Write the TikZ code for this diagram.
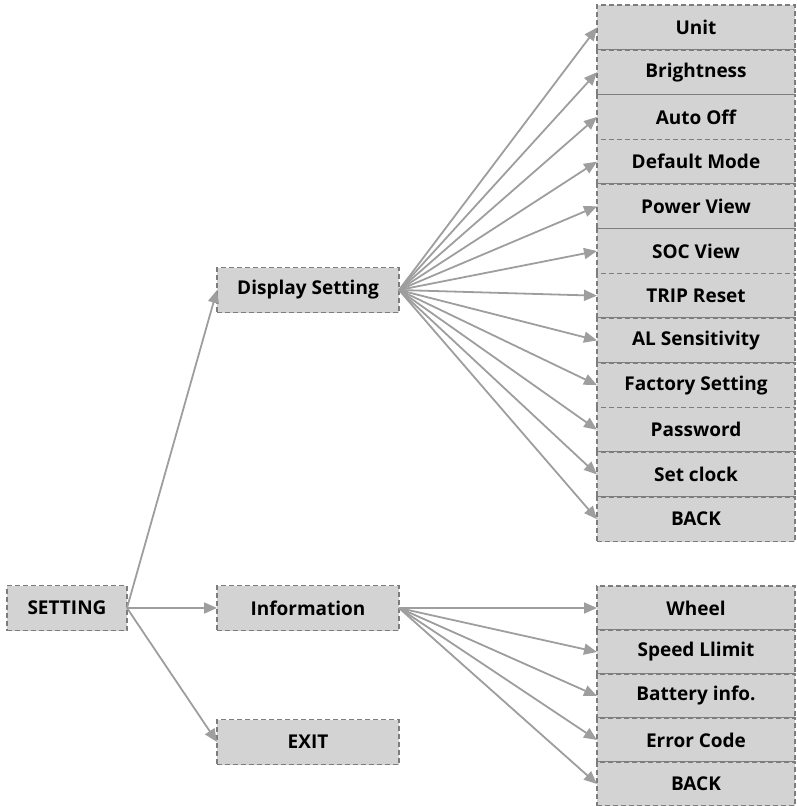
\documentclass[tikz,border=0pt]{standalone}
\usepackage{fontspec}
\setmainfont{Open Sans}
\usetikzlibrary{arrows.meta, positioning}
\definecolor{boxfill}{RGB}{211,211,211}
\definecolor{boxline}{RGB}{125,125,125}
\definecolor{arrowgray}{RGB}{158,158,158}
\tikzstyle{menu} = [rectangle, dashed, dash pattern=on 5pt off 3pt, line width=1.5pt, minimum width=182pt, minimum height=45pt, inner sep=0pt, outer sep=0pt, text centered, draw=boxline, fill=boxfill, font=\fontsize{19}{22}\selectfont\bfseries]
\tikzstyle{root} = [menu, minimum width=120pt]
\tikzstyle{item} = [menu, minimum width=198pt, minimum height=44.7pt]
\tikzstyle{arrow} = [line width=1.8pt, draw=arrowgray, -{Triangle[length=13pt, width=11pt]}]

\begin{document}
\begin{tikzpicture}[x=1pt, y=-1pt, node distance=0pt]
\useasboundingbox (0,0) rectangle (796,806);
% main menu
\node (set) [root] at (67,608) {SETTING};

\node (disp) [menu] at (308,290) {Display Setting};
\node (info) [menu] at (308,608) {Information};
\node (exit) [menu] at (308,742) {EXIT};

% display setting submenu
\node (unit) [item] at (696,27.5) {Unit};
\node (bright) [item, below=of unit] {Brightness};
\node (autooff) [item, below=of bright] {Auto Off};
\node (defmode) [item, below=of autooff] {Default Mode};
\node (power) [item, below=of defmode] {Power View};
\node (soc) [item, below=of power] {SOC View};
\node (trip) [item, below=of soc] {TRIP Reset};
\node (alsens) [item, below=of trip] {AL Sensitivity};
\node (factory) [item, below=of alsens] {Factory Setting};
\node (passwd) [item, below=of factory] {Password};
\node (clock) [item, below=of passwd] {Set clock};
\node (back) [item, below=of clock] {BACK};

% information submenu
\node (wheel) [item, minimum height=44pt] at (696,608) {Wheel};
\node (speed) [item, minimum height=44pt, below=of wheel] {Speed Llimit};
\node (battery) [item, minimum height=44pt, below=of speed] {Battery info.};
\node (errcode) [item, minimum height=44pt, below=of battery] {Error Code};
\node (back2) [item, minimum height=44pt, below=of errcode] {BACK};

\draw [arrow] (set.east) -- (disp.west);
\draw [arrow] (set.east) -- (info.west);
\draw [arrow] (set.east) -- (exit.west);

\draw [arrow] (disp.east) -- (unit.west);
\draw [arrow] (disp.east) -- (bright.west);
\draw [arrow] (disp.east) -- (autooff.west);
\draw [arrow] (disp.east) -- (defmode.west);
\draw [arrow] (disp.east) -- (power.west);
\draw [arrow] (disp.east) -- (soc.west);
\draw [arrow] (disp.east) -- (trip.west);
\draw [arrow] (disp.east) -- (alsens.west);
\draw [arrow] (disp.east) -- (factory.west);
\draw [arrow] (disp.east) -- (passwd.west);
\draw [arrow] (disp.east) -- (clock.west);
\draw [arrow] (disp.east) -- (back.west);

\draw [arrow] (info.east) -- (wheel.west);
\draw [arrow] (info.east) -- (speed.west);
\draw [arrow] (info.east) -- (battery.west);
\draw [arrow] (info.east) -- (errcode.west);
\draw [arrow] (info.east) -- (back2.west);
\end{tikzpicture}
\end{document}
